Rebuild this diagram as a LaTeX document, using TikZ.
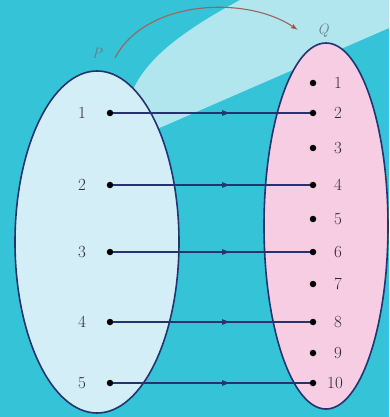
\documentclass[tikz,border=0pt]{standalone}
\usetikzlibrary{arrows.meta,decorations.markings}
\definecolor{bgcyan}{HTML}{35C3D7}
\definecolor{beam}{HTML}{B2E6EE}
\definecolor{setP}{HTML}{D4EEF8}
\definecolor{setQ}{HTML}{F7CDE3}
\definecolor{navy}{HTML}{25336E}
\definecolor{numcol}{HTML}{302A35}
\definecolor{lblcol}{HTML}{6B7C8C}
\definecolor{curvecol}{HTML}{A0625C}
\begin{document}
\begin{tikzpicture}[x=1pt,y=-1pt,
  setshape/.style={draw=navy,line width=1.6pt},
  elem/.style={circle,fill=black,inner sep=0pt,minimum size=6.5pt},
  num/.style={text=numcol,font=\fontsize{17}{17}\selectfont,inner sep=0pt},
  setlabel/.style={text=lblcol,font=\fontsize{15}{15}\selectfont\itshape,inner sep=0pt},
  maparrow/.style={draw=navy,line width=1.3pt,
    decoration={markings,mark=at position 0.6 with {\arrow{Latex[length=9pt,width=6pt]}}},
    postaction={decorate}}]
\useasboundingbox (0,0) rectangle (389,417);
\fill[bgcyan] (0,0) rectangle (389,417);
% light beam
\fill[beam] (118,146) -- (132,92) .. controls (145,62) and (175,35) .. (240,0)
  -- (389,0) -- (389,28) -- cycle;
% sets
\draw[setshape,fill=setP] (97,242) ellipse [x radius=82,y radius=171];
\draw[setshape,fill=setQ] (326,226) ellipse [x radius=62,y radius=183];
% set labels
\node[setlabel] (P) at (97,53) {P};
\node[setlabel] (Q) at (323,31) {Q};
\coordinate (cs) at (115,58);
\coordinate (ce) at (298,30);
\draw[curvecol,line width=1.1pt,-{Latex[length=7pt,width=5pt,fill=red!70!black]}]
  (cs) .. controls (145,0) and (245,-5) .. (ce);
% left elements
\foreach \i/\y in {1/113,2/185,3/252,4/322,5/383}{
  \node[num] (pl\i) at (82,\y) {\i};
  \node[elem] (p\i) at (110,\y) {};
}
% right elements
\foreach \i/\y in {1/83,2/113,3/148,4/185,5/219,6/252,7/284,8/322,9/353}{
  \node[num] (ql\i) at (338,\y) {\i};
  \node[elem] (q\i) at (313,\y) {};
}
\node[num] (ql10) at (335,383) {10};
\node[elem] (q10) at (313,383) {};
% mapping
\draw[maparrow] (p1) -- (q2);
\draw[maparrow] (p2) -- (q4);
\draw[maparrow] (p3) -- (q6);
\draw[maparrow] (p4) -- (q8);
\draw[maparrow] (p5) -- (q10);
\end{tikzpicture}
\end{document}
